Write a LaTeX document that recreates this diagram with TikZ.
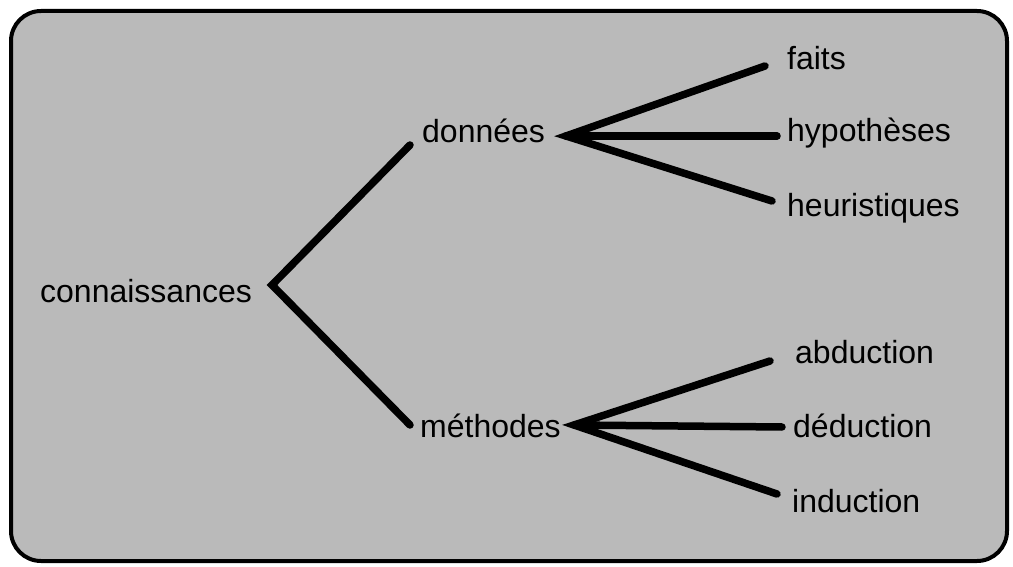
\documentclass[tikz,border=0pt]{standalone}
\usepackage{fontspec}
\setmainfont{Liberation Sans}
\begin{document}
\begin{tikzpicture}[x=1pt,y=-1pt,
  lbl/.style={inner sep=0pt, anchor=base west, font=\fontsize{32}{38}\selectfont},
  branch/.style={line width=7.5pt, line cap=round, line join=miter},
  frame/.style={line width=4pt, rounded corners=30pt, fill=black!27}]
\useasboundingbox (0,0) rectangle (1013,567);
\draw[frame] (11,11) rectangle (1007,561);
% labels
\node[lbl] (con) at (40,302) {connaissances};
\node[lbl] (don) at (422,143) {données};
\node[lbl] (met) at (420,437) {méthodes};
\node[lbl] (fai) at (787,70) {faits};
\node[lbl] (hyp) at (787,142) {hypothèses};
\node[lbl] (heu) at (787,217) {heuristiques};
\node[lbl] (abd) at (795,363) {abduction};
\node[lbl] (ded) at (793,437) {déduction};
\node[lbl] (ind) at (792,512) {induction};
% junctions
\coordinate (cv) at (272,285);
\coordinate (dv) at (566,136);
\coordinate (mv) at (574,425);
% connector ends
\coordinate (donE) at ([shift={(-12,2)}]don.base west);
\coordinate (metE) at ([shift={(-10,-12)}]met.base west);
\coordinate (faiE) at ([shift={(-22,-4)}]fai.base west);
\coordinate (hypE) at ([shift={(-10,-6)}]hyp.base west);
\coordinate (heuE) at ([shift={(-15,-16)}]heu.base west);
\coordinate (abdE) at ([shift={(-25,-2)}]abd.base west);
\coordinate (dedE) at ([shift={(-11,-10)}]ded.base west);
\coordinate (indE) at ([shift={(-15,-18)}]ind.base west);
% connectors
\draw[branch] (donE) -- (cv) -- (metE);
\draw[branch] (faiE) -- (dv) -- (heuE);
\draw[branch] (dv) -- (hypE);
\draw[branch] (abdE) -- (mv) -- (indE);
\draw[branch] (mv) -- (dedE);
\end{tikzpicture}
\end{document}
